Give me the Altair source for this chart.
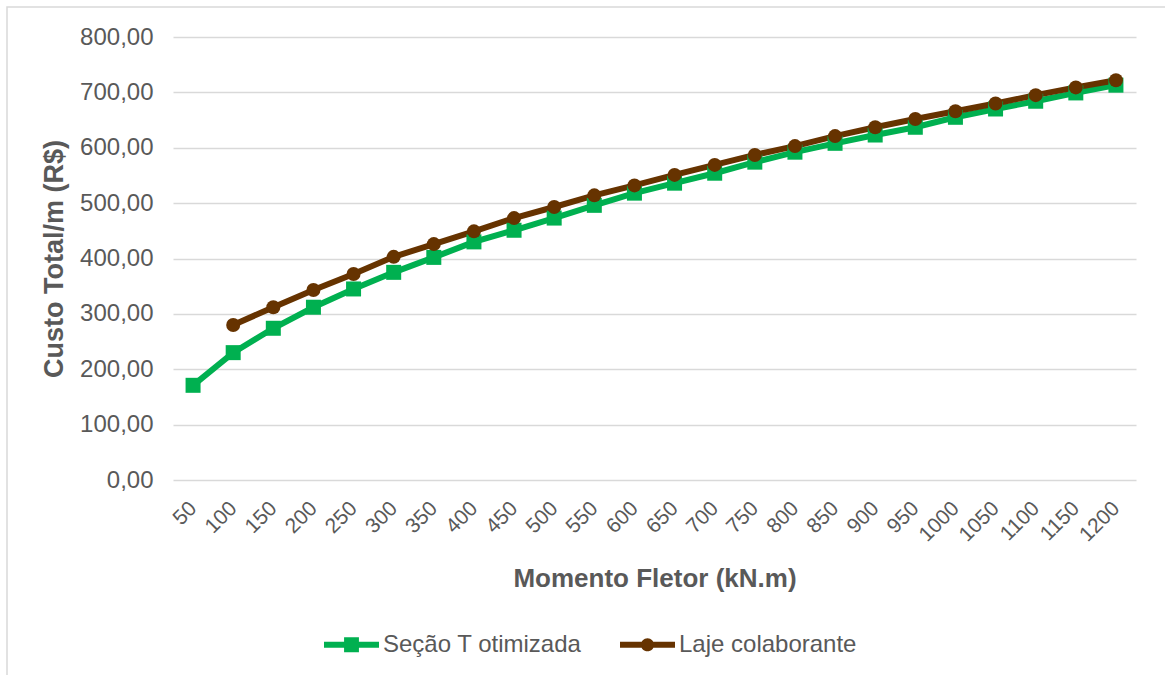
import altair as alt
import pandas as pd

# Bending moment (kN.m) and total cost per metre (R$) for each solution
momento = [50, 100, 150, 200, 250, 300, 350, 400, 450, 500, 550, 600,
           650, 700, 750, 800, 850, 900, 950, 1000, 1050, 1100, 1150, 1200]

custo_secao_t = [171, 230, 274, 312, 345, 375, 402, 430, 451, 473, 496, 518,
                 536, 554, 574, 592, 608, 623, 637, 655, 670, 684, 699, 713]

# "Laje colaborante" has no value at 50 kN.m
momento_laje = momento[1:]
custo_laje = [280, 312, 343, 372, 403, 426, 449, 473, 493, 514, 532,
              551, 569, 587, 603, 621, 637, 652, 666, 680, 695, 709, 722]

series_names = ["Seção T otimizada", "Laje colaborante"]
series_colors = ["#00B050", "#663300"]

# Legend glyphs: a line segment with the series marker in the middle
legend_shapes = [
    "M-1,-0.11H1V0.11H-1Z M-0.27,-0.27H0.27V0.27H-0.27Z",
    "M-1,-0.11H1V0.11H-1Z M0,-0.24A0.24,0.24 0 1 1 0,0.24A0.24,0.24 0 1 1 0,-0.24Z",
]

df = pd.concat([
    pd.DataFrame({"momento": momento, "custo": custo_secao_t, "serie": series_names[0]}),
    pd.DataFrame({"momento": momento_laje, "custo": custo_laje, "serie": series_names[1]}),
], ignore_index=True)

FONT = "Liberation Sans"
GREY = "#595959"

x_enc = alt.X(
    "momento:O",
    scale=alt.Scale(padding=0.5),
    axis=alt.Axis(
        title="Momento Fletor (kN.m)",
        labelAngle=-45,
        labelAlign="right",
        labelBaseline="middle",
        labelFontSize=21,
        labelColor=GREY,
        labelFont=FONT,
        labelPadding=25,
        ticks=False,
        domain=False,
        grid=False,
        titleFont=FONT,
        titleFontSize=26,
        titleFontWeight="bold",
        titleColor=GREY,
        titleBaseline="middle",
        titleY=98,
    ),
)

y_enc = alt.Y(
    "custo:Q",
    scale=alt.Scale(domain=[0, 800], nice=False),
    axis=alt.Axis(
        title="Custo Total/m (R$)",
        values=[0, 100, 200, 300, 400, 500, 600, 700, 800],
        labelExpr="replace(format(datum.value, '.2f'), '.', ',')",
        labelFontSize=24,
        labelColor=GREY,
        labelFont=FONT,
        labelPadding=20,
        ticks=False,
        domain=False,
        grid=True,
        gridColor="#D9D9D9",
        gridWidth=1.5,
        titleFont=FONT,
        titleFontSize=27,
        titleFontWeight="bold",
        titleColor=GREY,
        titleBaseline="middle",
        titleX=-119,
    ),
)

color_enc = alt.Color(
    "serie:N",
    scale=alt.Scale(domain=series_names, range=series_colors),
    title=None,
    legend=alt.Legend(
        orient="none",
        direction="horizontal",
        legendX=151,
        legendY=580,
        labelFont=FONT,
        labelFontSize=24,
        labelColor=GREY,
        labelOffset=4,
        labelLimit=0,
        symbolSize=3025,
        symbolStrokeWidth=0,
        symbolOpacity=1,
        columnPadding=38,
        padding=0,
    ),
)

base = alt.Chart(df)

lines = base.mark_line(strokeWidth=6).encode(x=x_enc, y=y_enc, color=color_enc)

squares = base.transform_filter(alt.datum.serie == series_names[0]).mark_point(
    shape="square", filled=True, size=225, opacity=1
).encode(x=x_enc, y=y_enc, color=color_enc)

circles = base.transform_filter(alt.datum.serie == series_names[1]).mark_point(
    shape="circle", filled=True, size=196, opacity=1
).encode(x=x_enc, y=y_enc, color=color_enc)

# Layer with no marks of its own; it only gives the legend its line-and-marker glyphs
legend_layer = base.transform_filter("false").mark_point(filled=True, opacity=1).encode(
    x=x_enc,
    y=y_enc,
    color=color_enc,
    shape=alt.Shape("serie:N", scale=alt.Scale(domain=series_names, range=legend_shapes), title=None),
)

# Light frame around the chart area
frame = alt.Chart(pd.DataFrame({"k": [0]})).mark_rect(
    fill=None, stroke="#D9D9D9", strokeWidth=1.5
).encode(x=alt.value(-166), x2=alt.value(1000), y=alt.value(-30), y2=alt.value(700))

chart = alt.layer(frame, lines, squares, circles, legend_layer).properties(
    width=963,
    height=443,
    autosize=alt.AutoSizeParams(type="none"),
    padding={"left": 173, "top": 37, "right": 29, "bottom": 195},
    background="white",
).configure_view(stroke=None)

chart.save("out.html", embed_options={"renderer": "svg", "actions": False})
